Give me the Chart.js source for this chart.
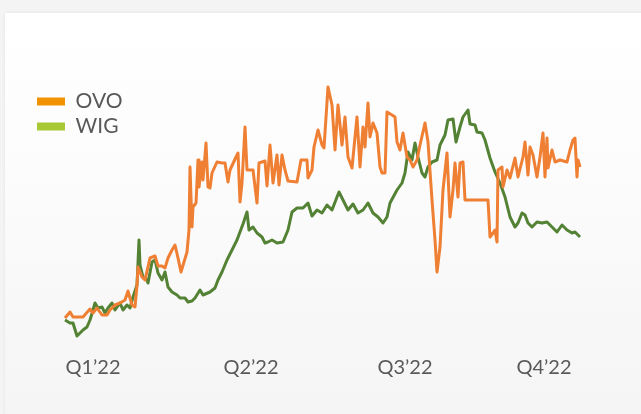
<!DOCTYPE html>
<html>
<head>
<meta charset="utf-8">
<script src="https://cdn.jsdelivr.net/npm/chart.js@4"></script>
<style>
  html, body { margin:0; padding:0; width:641px; height:414px; overflow:hidden; background:#f4f4f4; }
  #card { position:absolute; left:5px; top:13px; width:700px; height:420px;
          background:linear-gradient(#ffffff 0%, #fbfbfb 45%, #f4f4f4 100%);
          box-shadow:0 0 3px rgba(0,0,0,0.08); }
  #c { position:absolute; left:0; top:0; }
</style>
</head>
<body>
<div id="card"></div>
<canvas id="c" width="641" height="414"></canvas>
<script>
// Trading-session index (x) and relative performance in % (y)
const seriesNames = ['OVO', 'WIG'];
const quarterLabels = ['Q1\u201922', 'Q2\u201922', 'Q3\u201922', 'Q4\u201922'];
const quarterDays = [14.5, 93.5, 170.5, 240];

const ovoDays = [0.5,3,4.5,9.5,13,14.5,16.5,19,21.5,23,25.5,28,30.5,32,34,35.5,36.5,37,39,40.5,43,45.5,47,49,50.5,52,54,55.5,57,58.5,60,61.5,62.5,63,64,64.5,66,67,67.5,69,69.5,71,72,73,74,76.5,79,80.5,82,83,86,87,88,89,90.5,91.5,94.5,96.5,97.5,100.5,101.5,103,104.5,106.5,107.5,109,110.5,112,116.5,118.5,121.5,122,124,125,127,129,130,132,134,135.5,137,139,140.5,142,144,146.5,148,149.5,150.5,152,153,154.5,156.5,158,159,160.5,161.5,164,165.5,166.5,168,169.5,171.5,173,174.5,176.5,178,180.5,182,184,185.5,186.5,188,189.5,191.5,193,194.5,195.5,197,198,199.5,200.5,212,213,214.5,215.5,216.5,217,219,219.5,221.5,223,225.5,227,229.5,230.5,232,233,234.5,236.5,238,239.5,240.5,241.5,242,244,245.5,248,251.5,253,254.5,255.5,256.5,257,258];
const ovoValues = [0,3,0.5,0.5,4.5,2.5,5,1.5,1.5,4,6.5,7.5,9,13.5,6.5,5.5,16.5,25.5,20.5,19,30,31,26,26,25,30,34,36.5,30,23,28,33,44,75.5,45.5,55.5,57.5,79,65.5,78,69,87.5,65.5,65,72.5,78,77.5,77.5,68,74,80.5,82.5,58,67.5,95.5,74,74,57.5,77.5,78.5,66,86.5,67.5,81.5,66.5,81.5,74,68.5,68,79,79,70,74,85.5,94,86.5,85,115.5,106.5,84,106.5,86.5,100.5,80.5,75,100.5,75.5,95.5,85.5,107.5,90.5,97.5,92.5,75.5,72.5,72.5,103,101.5,100.5,88,84,92.5,80.5,79,75.5,79,86.5,97.5,88,59,39,23,35.5,64,82.5,50.5,64,77.5,60.5,77.5,78,59,59,40.5,42.5,44,38,74,75.5,65.5,74,70,80,70.5,80.5,88,71.5,85.5,81.5,70.5,80.5,92.5,70.5,90,75,84,78,79,78,84,89,90,70.5,79,75.5];

const wigDays = [0.5,3,4.5,6.5,8,9.5,11.5,13,14.5,15.5,17,19,20.5,22,24,25.5,28,29.5,31.5,33,34.5,36.5,37.5,38,39.5,41.5,42,44,45.5,47,49,50.5,52,54,56.5,58,60.5,62,64,65.5,68,69.5,73,75.5,77,79,81.5,84,86.5,89.5,91.5,92.5,94.5,96.5,99,100.5,102,104,106.5,109.5,112,114,116.5,119.5,122,124,126.5,129,131.5,134,136.5,137.5,139.5,142,144.5,147,149.5,152,154.5,157,159.5,161.5,163,166.5,169,170.5,172,174,175.5,177,179,180.5,182,184,186.5,188,190.5,192,194.5,196,198,199.5,202,203,205.5,206.5,209,210.5,213,215.5,218,220.5,223,225.5,227,229,230.5,232,234,236.5,239,241.5,244,246.5,249,251.5,254,255.5,258];
const wigValues = [-1,-2.5,-2.5,-9,-7.5,-6,-4.5,-1,4,7.5,5,5.5,2.5,5,7.5,4,7.5,4,6.5,5,10.5,16.5,39,26.5,20.5,19,17.5,28,29,22.5,19,23,15.5,13,11.5,10,10,8,8.5,10,14,11.5,13,15,19,23,29,34,39,47,53,44,45.5,42.5,40.5,37.5,38,39,37.5,38,44,53,55,55,57.5,51,54,52.5,56.5,54,60.5,63,59,54,57,52.5,54,57.5,52.5,50.5,47.5,50.5,57.5,64,67.5,72.5,83,79,87.5,80.5,72.5,70.5,75.5,78,79,86.5,91.5,99,99.5,88,95.5,100.5,104,97,96.5,93,92.5,89,80,73,67.5,60.5,50.5,45.5,47.5,52.5,51.5,47.5,45.5,48,47.5,48,45.5,43,46.5,44,42.5,43,40.5];

const lineColors = ['#EE7F33', '#548235'];
const swatchColors = ['#F39200', '#A9C934'];

const toPoints = (days, vals) => days.map((d, i) => ({ x: d, y: vals[i] }));

// keep the in-chart legend at the top of the plot area
const legendInPlot = {
  id: 'legendInPlot',
  afterLayout(chart) {
    const lg = chart.legend;
    if (!lg) return;
    const h = lg.height;
    lg.top = chart.chartArea.top;
    lg.bottom = lg.top + h;
  }
};

new Chart(document.getElementById('c'), {
  type: 'line',
  data: {
    datasets: [
      { label: seriesNames[0], data: toPoints(ovoDays, ovoValues), borderColor: lineColors[0], backgroundColor: swatchColors[0], borderWidth: 3, pointRadius: 0, tension: 0, clip: false, borderJoinStyle: 'round' },
      { label: seriesNames[1], data: toPoints(wigDays, wigValues), borderColor: lineColors[1], backgroundColor: swatchColors[1], borderWidth: 3, pointRadius: 0, tension: 0, clip: false, borderJoinStyle: 'round' }
    ]
  },
  plugins: [legendInPlot],
  options: {
    responsive: false,
    animation: false,
    devicePixelRatio: 1,
    layout: { padding: { left: 33, right: 51, top: 87, bottom: 0 } },
    scales: {
      x: {
        type: 'linear', min: -15.5, max: 263,
        grid: { display: false, drawTicks: false },
        border: { display: false },
        afterBuildTicks: (axis) => { axis.ticks = quarterDays.map(v => ({ value: v })); },
        afterFit: (axis) => { axis.height = 74; },
        ticks: {
          autoSkip: false, maxRotation: 0, padding: 16, color: '#595959',
          font: { family: 'Lato', size: 20 },
          callback: (v, i) => quarterLabels[i]
        }
      },
      y: { display: false, min: -11, max: 115.5 }
    },
    plugins: {
      tooltip: { enabled: false },
      legend: {
        position: 'chartArea', align: 'start',
        labels: {
          boxWidth: 28, boxHeight: 8, padding: 4, color: '#595959',
          font: { family: 'Lato', size: 21 },
          generateLabels: (chart) => chart.data.datasets.map((ds, i) => ({
            text: ds.label, fillStyle: swatchColors[i], strokeStyle: swatchColors[i],
            lineWidth: 0, fontColor: '#595959', hidden: false, datasetIndex: i
          }))
        }
      }
    }
  }
});
</script>
</body>
</html>
